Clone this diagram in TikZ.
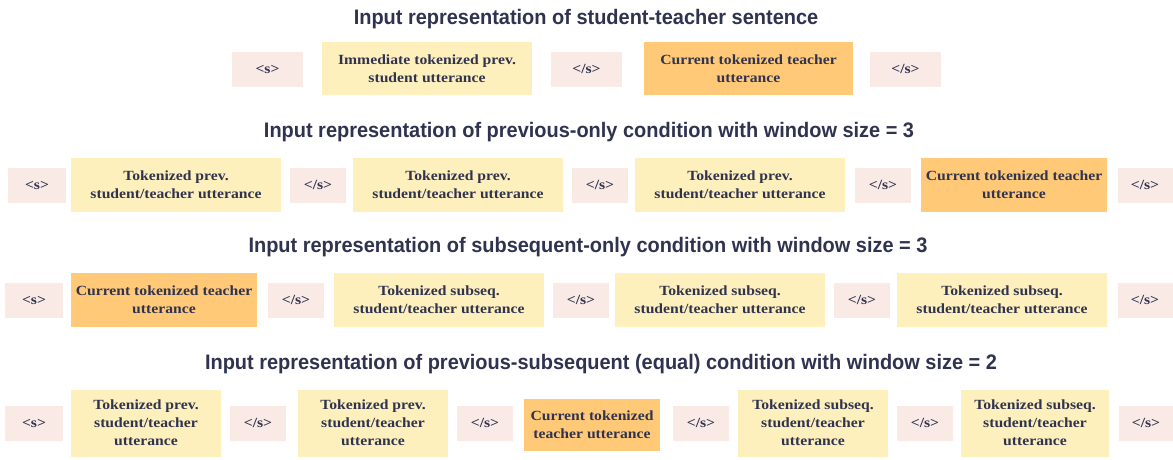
\documentclass[tikz,border=0pt]{standalone}
\usepackage{fontspec}
\setmainfont{Liberation Serif}[FakeStretch=1.12]
\newfontfamily\headfont[FakeStretch=0.95]{Liberation Sans}
\definecolor{ink}{HTML}{2F3350}
\definecolor{sepfill}{HTML}{FAEAE6}
\definecolor{prevfill}{HTML}{FEF0BC}
\definecolor{curfill}{HTML}{FFC978}
\tikzset{
  base/.style={inner sep=0pt, align=center, text=ink, font=\bfseries\fontsize{14}{18}\selectfont},
  sep/.style={base, fill=sepfill, minimum height=35pt},
  prevbox/.style={base, fill=prevfill},
  curbox/.style={base, fill=curfill},
  heading/.style={text=ink, font=\headfont\bfseries\fontsize{21}{24}\selectfont}
}
\begin{document}
\begin{tikzpicture}[x=1pt,y=-1pt]
\useasboundingbox (0,0) rectangle (1173,459);
\fill[white] (0,0) rectangle (1173,459);

% row 1: student-teacher sentence
\node[heading] (t1) at (586,19.5) {Input representation of student-teacher sentence};
\node[sep, minimum width=71pt] (a1) at (267.5,69) {<s>};
\node[prevbox, minimum width=210pt, minimum height=53pt] (a2) at (427,68.5) {Immediate tokenized prev.\\student utterance};
\node[sep, minimum width=71pt] (a3) at (586.5,69) {</s>};
\node[curbox, minimum width=209pt, minimum height=53pt] (a4) at (748.5,68.5) {Current tokenized teacher\\utterance};
\node[sep, minimum width=71pt] (a5) at (905.5,69) {</s>};

% row 2: previous-only, window 3
\node[heading] (t2) at (589,132.5) {Input representation of previous-only condition with window size = 3};
\node[sep, minimum width=58pt] (b1) at (37,185) {<s>};
\node[prevbox, minimum width=210pt, minimum height=54pt] (b2) at (176,185) {Tokenized prev.\\student/teacher utterance};
\node[sep, minimum width=56pt] (b3) at (318,185) {</s>};
\node[prevbox, minimum width=210pt, minimum height=54pt] (b4) at (458,185) {Tokenized prev.\\student/teacher utterance};
\node[sep, minimum width=56pt] (b5) at (600,185) {</s>};
\node[prevbox, minimum width=210pt, minimum height=54pt] (b6) at (740,185) {Tokenized prev.\\student/teacher utterance};
\node[sep, minimum width=56pt] (b7) at (883,185) {</s>};
\node[curbox, minimum width=186pt, minimum height=54pt] (b8) at (1014,185) {Current tokenized teacher\\utterance};
\node[sep, minimum width=55pt] (b9) at (1145,185) {</s>};

% row 3: subsequent-only, window 3
\node[heading] (t3) at (588,247.5) {Input representation of subsequent-only condition with window size = 3};
\node[sep, minimum width=58pt] (c1) at (34,300) {<s>};
\node[curbox, minimum width=186pt, minimum height=54pt] (c2) at (164,300) {Current tokenized teacher\\utterance};
\node[sep, minimum width=56pt] (c3) at (296,300) {</s>};
\node[prevbox, minimum width=210pt, minimum height=54pt] (c4) at (439,300) {Tokenized subseq.\\student/teacher utterance};
\node[sep, minimum width=56pt] (c5) at (581,300) {</s>};
\node[prevbox, minimum width=210pt, minimum height=54pt] (c6) at (720,300) {Tokenized subseq.\\student/teacher utterance};
\node[sep, minimum width=56pt] (c7) at (862,300) {</s>};
\node[prevbox, minimum width=210pt, minimum height=54pt] (c8) at (1002,300) {Tokenized subseq.\\student/teacher utterance};
\node[sep, minimum width=55pt] (c9) at (1145,300) {</s>};

% row 4: previous-subsequent (equal), window 2
\node[heading] (t4) at (601,364.5) {Input representation of previous-subsequent (equal) condition with window size = 2};
\node[sep, minimum width=58pt] (d1) at (34,423) {<s>};
\node[prevbox, minimum width=150pt, minimum height=67pt] (d2) at (146,423) {Tokenized prev.\\student/teacher\\utterance};
\node[sep, minimum width=56pt] (d3) at (258,423) {</s>};
\node[prevbox, minimum width=150pt, minimum height=67pt] (d4) at (373,423) {Tokenized prev.\\student/teacher\\utterance};
\node[sep, minimum width=56pt] (d5) at (485,423) {</s>};
\node[curbox, minimum width=136pt, minimum height=52pt] (d6) at (592,425) {Current tokenized\\teacher utterance};
\node[sep, minimum width=56pt] (d7) at (701,423) {</s>};
\node[prevbox, minimum width=150pt, minimum height=67pt] (d8) at (813,423) {Tokenized subseq.\\student/teacher\\utterance};
\node[sep, minimum width=56pt] (d9) at (925,423) {</s>};
\node[prevbox, minimum width=148pt, minimum height=67pt] (d10) at (1035,423) {Tokenized subseq.\\student/teacher\\utterance};
\node[sep, minimum width=54pt] (d11) at (1146,423) {</s>};
\end{tikzpicture}
\end{document}
